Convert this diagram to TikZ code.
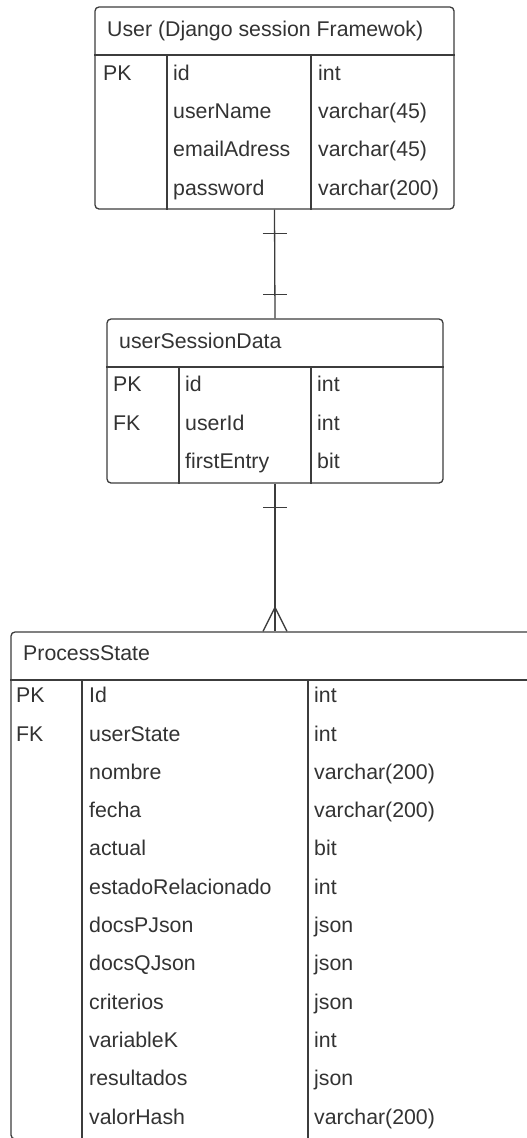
\documentclass[tikz,border=0pt]{standalone}
\usepackage{fontspec}
\setmainfont{Liberation Sans}
\definecolor{ln}{HTML}{3C3C3C}
\definecolor{tx}{HTML}{333333}
\tikzset{
  tbl/.style={draw=ln, line width=1.3pt, rounded corners=4pt, fill=white, inner sep=0pt},
  grid/.style={draw=ln, line width=1.3pt},
  conn/.style={draw=ln, line width=1.3pt},
  txt/.style={anchor=base west, inner sep=0pt, text=tx, font=\fontsize{21.3pt}{24pt}\selectfont},
}
\begin{document}
\begin{tikzpicture}[x=1pt,y=-1pt]
\useasboundingbox (0,0) rectangle (527,1138);
\clip (0,0) rectangle (527,1138);

% ---------- table 1 : User ----------
\node[tbl, minimum width=359pt, minimum height=202pt] (user) at (274.5,108) {};
\draw[grid] (user.west |- 0,55) -- (user.east |- 0,55);
\draw[grid] (167,55) -- (167,0 |- user.south);
\draw[grid] (311,55) -- (311,0 |- user.south);
\node[txt] (user-h) at (107,36.5) {User (Django session Framewok)};
\node[txt] (user-k1) at (103,80) {PK};
\node[txt] (user-n1) at (173,80) {id};
\node[txt] (user-t1) at (318,80) {int};
\node[txt] (user-n2) at (173,118.4) {userName};
\node[txt] (user-t2) at (318,118.4) {varchar(45)};
\node[txt] (user-n3) at (173,156.8) {emailAdress};
\node[txt] (user-t3) at (318,156.8) {varchar(45)};
\node[txt] (user-n4) at (173,195.2) {password};
\node[txt] (user-t4) at (318,195.2) {varchar(200)};

% ---------- table 2 : userSessionData ----------
\node[tbl, minimum width=336pt, minimum height=164pt] (usd) at (275,401) {};
\draw[grid] (usd.west |- 0,367) -- (usd.east |- 0,367);
\draw[grid] (179,367) -- (179,0 |- usd.south);
\draw[grid] (311,367) -- (311,0 |- usd.south);
\node[txt] (usd-h) at (119,348) {userSessionData};
\node[txt] (usd-k1) at (113,391.5) {PK};
\node[txt] (usd-n1) at (185,391.5) {id};
\node[txt] (usd-t1) at (317,391.5) {int};
\node[txt] (usd-k2) at (113,430) {FK};
\node[txt] (usd-n2) at (185,430) {userId};
\node[txt] (usd-t2) at (317,430) {int};
\node[txt] (usd-n3) at (185,468.5) {firstEntry};
\node[txt] (usd-t3) at (317,468.5) {bit};

% ---------- table 3 : ProcessState ----------
\node[tbl, minimum width=549pt, minimum height=507pt] (ps) at (285.5,885.5) {};
\draw[grid] (ps.west |- 0,680) -- (ps.east |- 0,680);
\draw[grid] (82,680) -- (82,0 |- ps.south);
\draw[grid] (308,680) -- (308,0 |- ps.south);
\node[txt] (ps-h) at (23,660) {ProcessState};
\node[txt] (ps-k1) at (16,702.7) {PK};
\node[txt] (ps-k2) at (16,741) {FK};
\foreach \i/\n/\t in {0/Id/int, 1/userState/int, 2/nombre/varchar(200), 3/fecha/varchar(200),
  4/actual/bit, 5/estadoRelacionado/int, 6/docsPJson/json, 7/docsQJson/json,
  8/criterios/json, 9/variableK/int, 10/resultados/json, 11/valorHash/varchar(200)}{
  \node[txt] (ps-n\i) at (89,702.7+38.3*\i) {\n};
  \node[txt] (ps-t\i) at (314,702.7+38.3*\i) {\t};
}

% ---------- connectors ----------
\draw[conn] (user.south) -- (usd.north);
\draw[conn] ([xshift=-12pt,yshift=-24pt]user.south) -- ([xshift=12pt,yshift=-24pt]user.south);
\draw[conn] ([xshift=-12pt,yshift=24pt]usd.north) -- ([xshift=12pt,yshift=24pt]usd.north);

\coordinate (psin) at (usd.south |- ps.north);
\draw[conn] (usd.south) -- (psin);
\draw[conn] ([xshift=-12pt,yshift=-24pt]usd.south) -- ([xshift=12pt,yshift=-24pt]usd.south);
\draw[conn] ([xshift=-12pt]psin) -- ([yshift=24pt]psin) -- ([xshift=12pt]psin);
\end{tikzpicture}
\end{document}
